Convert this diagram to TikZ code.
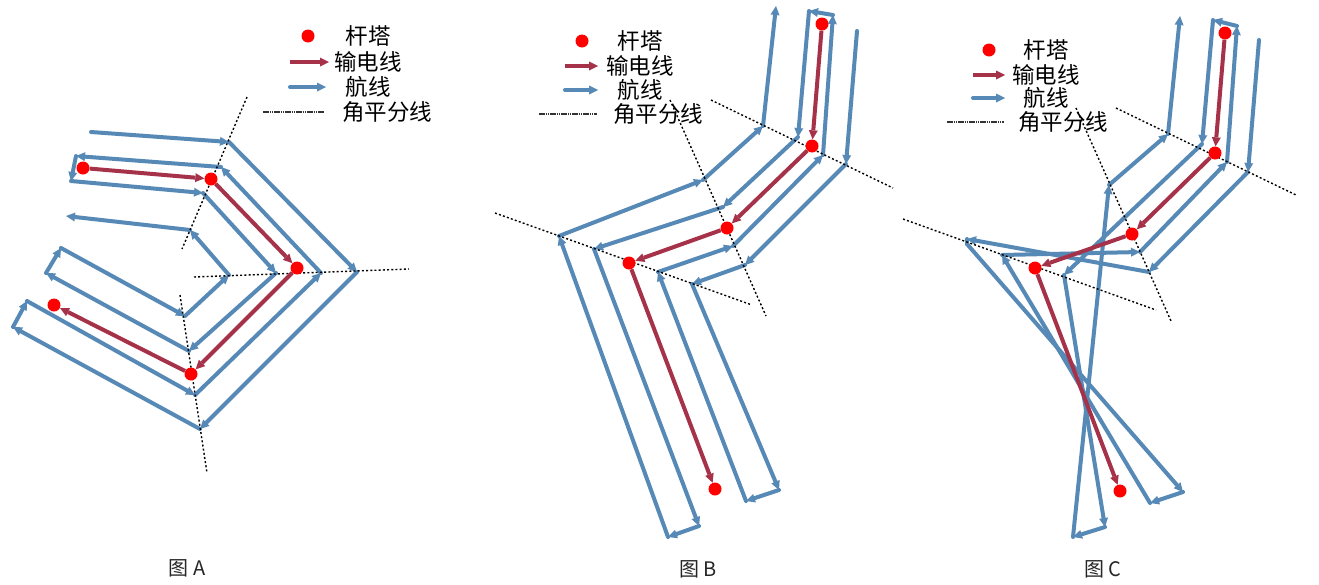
\documentclass[tikz,border=0pt]{standalone}
\usepackage{fontspec}
\newfontfamily\cjk{Noto Sans CJK SC}
\usetikzlibrary{arrows.meta}
\definecolor{flightblue}{HTML}{5689B6}
\definecolor{linered}{HTML}{A6324A}
\tikzset{
  flight/.style={draw=flightblue,line width=4pt,line cap=round,line join=round,-{Triangle[length=9pt,width=9pt,line width=0pt,fill=flightblue]}},
  flightplain/.style={draw=flightblue,line width=4pt,line cap=round},
  power/.style={draw=linered,line width=4pt,-{Triangle[length=9pt,width=9pt,line width=0pt,fill=linered]}},
  bisect/.style={draw=black,line width=1.4pt,dash pattern=on 2pt off 2.2pt},
  keyline/.style={draw=black!80,line width=1.5pt,dash pattern=on 1.6pt off 0.6pt},
  tower/.style={circle,fill=red,draw=none,minimum size=13pt,inner sep=0pt},
  legend/.style={font=\cjk\fontsize{22.5}{22.5}\selectfont,inner sep=0pt,text=black},
  caption/.style={font=\cjk\fontsize{20}{20}\selectfont,inner sep=0pt,text=black!85}
}
\begin{document}
\begin{tikzpicture}[x=1pt,y=-1pt]
\useasboundingbox[fill=white] (0,0) rectangle (1319,584);

% ---------- Panel A ----------
\foreach \n/\x/\y in {a1/91/132,a2/229/142,a3/357/272,a4/200/429,a5/13/327,a6/27/301,a7/195/395,a8/321/273,a9/221/167,a10/76/156,a11/71/181,a12/203/193,a13/276/273,a14/189/351,a15/46/273,a16/61/248,a17/185/316,a18/229/275,a19/190/230,a20/66/216}
  \coordinate (\n) at (\x,\y);
\foreach \p [remember=\p as \q (initially a1)] in {a2,a3,a4,a5,a6,a7,a8,a9,a10,a11,a12,a13,a14,a15,a16,a17,a18,a19,a20}
  \draw[flight] (\q) -- (\p);
\coordinate (abA1) at (247,97); \coordinate (abA2) at (182,249);
\coordinate (abB1) at (194,277); \coordinate (abB2) at (409,269);
\coordinate (abC1) at (180,295); \coordinate (abC2) at (207,473);
\draw[bisect] (abA1) -- (abA2);
\draw[bisect] (abB1) -- (abB2);
\draw[bisect] (abC1) -- (abC2);
\node[tower] (ta1) at (83,168) {};
\node[tower] (ta2) at (211,179) {};
\node[tower] (ta3) at (297,268) {};
\node[tower] (ta4) at (191,374) {};
\node[tower] (ta5) at (54,305) {};
\draw[power] (ta1) -- (ta2);
\draw[power] (ta2) -- (ta3);
\draw[power] (ta3) -- (ta4);
\draw[power] (ta4) -- (ta5);
\node[tower] (ka1) at (308,36) {};
\node[legend] (la1) at (368,36) {杆塔};
\coordinate (kar1) at (290,62); \coordinate (kar2) at (329,62);
\draw[power] (kar1) -- (kar2);
\node[legend] (la2) at (368,62) {输电线};
\coordinate (kab1) at (290,87); \coordinate (kab2) at (326,87);
\draw[flight] (kab1) -- (kab2);
\node[legend] (la3) at (368,87) {航线};
\coordinate (kad1) at (263,112); \coordinate (kad2) at (324,112);
\draw[keyline] (kad1) -- (kad2);
\node[legend] (la4) at (387,112) {角平分线};
\node[caption] (capA) at (187,568) {图 A};

% ---------- Panel B ----------
\foreach \n/\x/\y in {b1/857/31,b2/846/164,b3/745/265,b4/692/284,b5/779/490,b6/746/501,b7/658/272,b8/733/246,b9/823/155,b10/833/15,b11/809/11,b12/798/137,b13/723/207,b14/594/249,b15/699/526,b16/668/537,b17/559/236,b18/703/180,b19/763/126,b20/776/6}
  \coordinate (\n) at (\x,\y);
\foreach \p [remember=\p as \q (initially b1)] in {b2,b3,b4,b5,b6,b7,b8,b9,b10,b11,b12,b13,b14,b15,b16,b17,b18,b19,b20}
  \draw[flight] (\q) -- (\p);
\coordinate (bbA1) at (711,100); \coordinate (bbA2) at (893,188);
\coordinate (bbB1) at (670,100); \coordinate (bbB2) at (766,316);
\coordinate (bbC1) at (495,213); \coordinate (bbC2) at (752,305);
\draw[bisect] (bbA1) -- (bbA2);
\draw[bisect] (bbB1) -- (bbB2);
\draw[bisect] (bbC1) -- (bbC2);
\node[tower] (tb1) at (822,24) {};
\node[tower] (tb2) at (812,146) {};
\node[tower] (tb3) at (727,228) {};
\node[tower] (tb4) at (629,263) {};
\node[tower] (tb5) at (715,489) {};
\draw[power] (tb1) -- (tb2);
\draw[power] (tb2) -- (tb3);
\draw[power] (tb3) -- (tb4);
\draw[power] (tb4) -- (tb5);
\node[tower] (kb1) at (582,41) {};
\node[legend] (lb1) at (640,41) {杆塔};
\coordinate (kbr1) at (565,66); \coordinate (kbr2) at (598,66);
\draw[power] (kbr1) -- (kbr2);
\node[legend] (lb2) at (640,66) {输电线};
\coordinate (kbb1) at (565,90); \coordinate (kbb2) at (598,90);
\draw[flight] (kbb1) -- (kbb2);
\node[legend] (lb3) at (640,90) {航线};
\coordinate (kbd1) at (539,114); \coordinate (kbd2) at (597,114);
\draw[keyline] (kbd1) -- (kbd2);
\node[legend] (lb4) at (658,114) {角平分线};
\node[caption] (capB) at (698,569) {图 B};

% ---------- Panel C ----------
\foreach \n/\x/\y in {c1/1259/40,c2/1248/172,c3/1149/272,c4/967/239,c5/967/244,c6/1183/492,c7/1150/503,c8/1002/255,c9/1140/252,c10/1227/162,c11/1237/26,c12/1213/20,c13/1202/144,c14/1064/275,c15/1105/527,c16/1073/537,c17/1109/185,c18/1168/134,c19/1180/16}
  \coordinate (\n) at (\x,\y);
\foreach \p [remember=\p as \q (initially c1)] in {c2,c3,c4}
  \draw[flight] (\q) -- (\p);
\draw[flightplain] (c4) -- (c5);
\foreach \p [remember=\p as \q (initially c5)] in {c6,c7,c8,c9,c10,c11,c12,c13,c14,c15,c16,c17,c18,c19}
  \draw[flight] (\q) -- (\p);
\coordinate (cbA1) at (1116,108); \coordinate (cbA2) at (1296,195);
\coordinate (cbB1) at (1076,108); \coordinate (cbB2) at (1171,321);
\coordinate (cbC1) at (903,219); \coordinate (cbC2) at (1156,310);
\draw[bisect] (cbA1) -- (cbA2);
\draw[bisect] (cbB1) -- (cbB2);
\draw[bisect] (cbC1) -- (cbC2);
\node[tower] (tc1) at (1225,33) {};
\node[tower] (tc2) at (1215,153) {};
\node[tower] (tc3) at (1132,234) {};
\node[tower] (tc4) at (1035,268) {};
\node[tower] (tc5) at (1120,491) {};
\draw[power] (tc1) -- (tc2);
\draw[power] (tc2) -- (tc3);
\draw[power] (tc3) -- (tc4);
\draw[power] (tc4) -- (tc5);
\node[tower] (kc1) at (989,50) {};
\node[legend] (lc1) at (1046,50) {杆塔};
\coordinate (kcr1) at (973,75); \coordinate (kcr2) at (1005,75);
\draw[power] (kcr1) -- (kcr2);
\node[legend] (lc2) at (1046,75) {输电线};
\coordinate (kcb1) at (973,98); \coordinate (kcb2) at (1005,98);
\draw[flight] (kcb1) -- (kcb2);
\node[legend] (lc3) at (1046,98) {航线};
\coordinate (kcd1) at (947,122); \coordinate (kcd2) at (1004,122);
\draw[keyline] (kcd1) -- (kcd2);
\node[legend] (lc4) at (1063,122) {角平分线};
\node[caption] (capC) at (1103,569) {图 C};
\end{tikzpicture}
\end{document}
